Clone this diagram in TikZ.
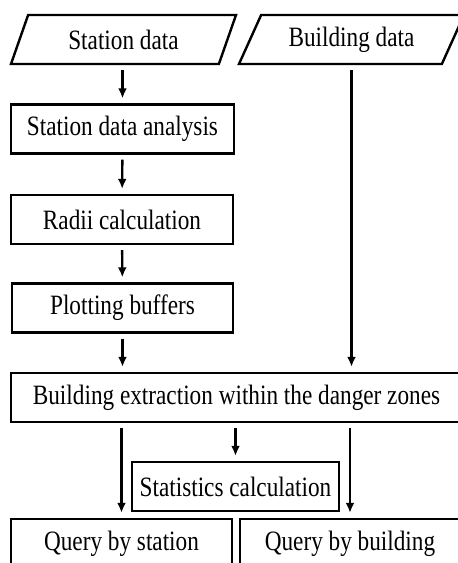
\documentclass[tikz,border=0pt]{standalone}
\usepackage{fontspec}
\setmainfont{Liberation Serif}[FakeStretch=0.83]
\usepackage{tikz}
\usetikzlibrary{arrows.meta,positioning,shapes.geometric}

\begin{document}
\begin{tikzpicture}[x=1pt,y=-1pt,
    font=\fontsize{28}{30}\selectfont,
    box/.style={draw,line width=2.4pt,minimum height=49pt,inner sep=0pt},
    datain/.style={draw,line width=2.4pt,trapezium,trapezium left angle=49,
        trapezium right angle=131,trapezium stretches body=true,
        minimum width=225pt,minimum height=49pt,inner sep=0pt},
    flow/.style={line width=2.4pt,-{Latex[length=10pt,width=9pt]},
        shorten <=5pt,shorten >=5pt}]
            \useasboundingbox (0,0) rectangle (458,563);
            \clip (0,0) rectangle (458,563);
            \node[datain] (sdata) at (123.5,39.5) {Station data};
            \node[datain] (bdata) at (351.5,39.5) {Building data};
            \node[box,minimum width=223pt] (sda) at (122.5,129) {Station data analysis};
            \node[box,minimum width=222pt] (radii) at (122,219.5) {Radii calculation};
            \node[box,minimum width=221pt] (plot) at (122.5,308) {Plotting buffers};
            \node[box,minimum width=451pt] (extract) at (236.5,397.5) {Building extraction within the danger zones};
            \node[box,minimum width=207pt] (stats) at (235.5,486.5) {Statistics calculation};
            \node[box,minimum width=221pt] (qstation) at (121.5,543.5) {Query by station};
            \node[box,minimum width=220pt] (qbuilding) at (350,543.5) {Query by building};
            \draw[flow] (sdata.south -| sda.north) -- (sda.north);
            \draw[flow] (sda) -- (radii);
            \draw[flow] (radii) -- (plot);
            \draw[flow] (plot) -- (plot.south |- extract.north);
            \draw[flow] (bdata.south) -- (bdata.south |- extract.north);
            \draw[flow] (qstation.north |- extract.south) -- (qstation.north);
            \draw[flow] (stats.north |- extract.south) -- (stats.north);
            \draw[flow] (qbuilding.north |- extract.south) -- (qbuilding.north);
        \end{tikzpicture}
\end{document}
